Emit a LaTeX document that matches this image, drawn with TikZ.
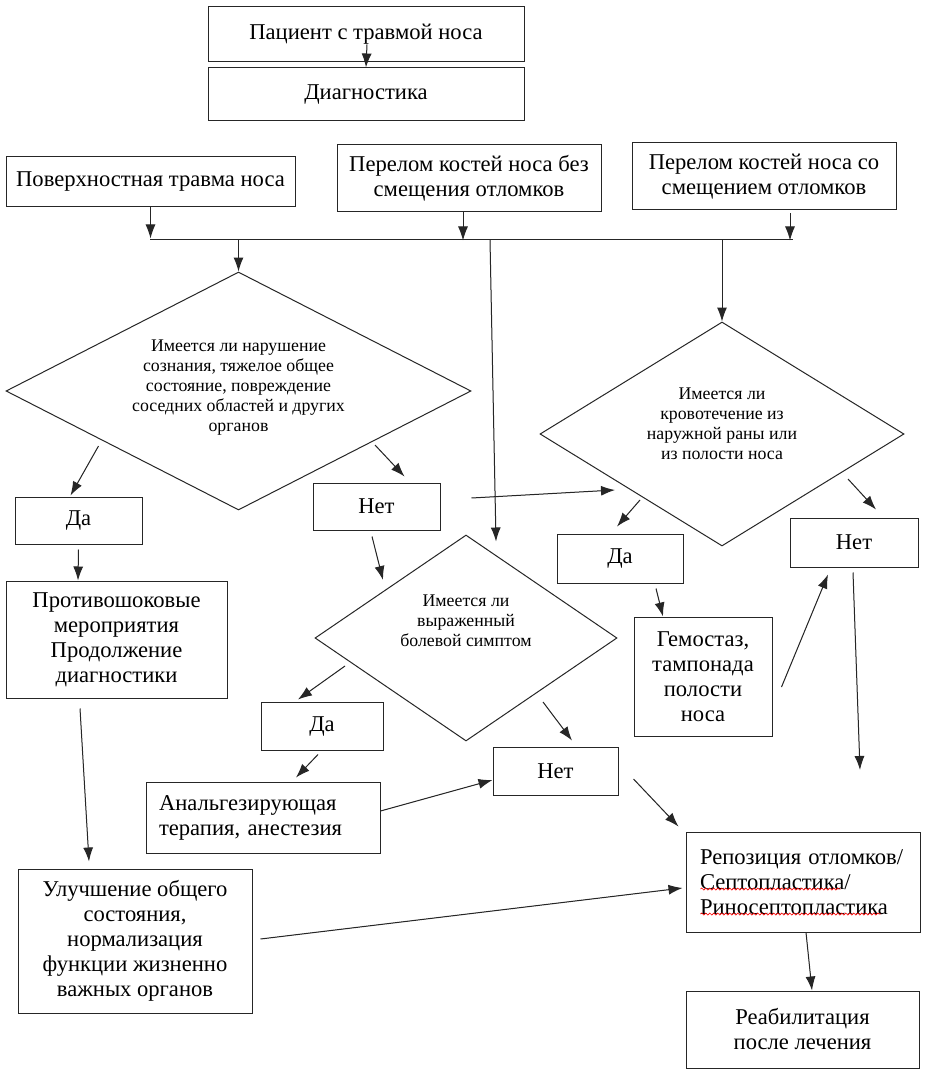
\documentclass[tikz,border=0pt]{standalone}
\usepackage{fontspec}
\setmainfont{Liberation Serif}
\usetikzlibrary{shapes.geometric,arrows.meta,calc,decorations.pathmorphing}
\begin{document}
\begin{tikzpicture}[x=1pt,y=-1pt,
  box/.style={draw=black!85, line width=1pt, inner sep=0pt, align=center, font=\fontsize{22.6}{25}\selectfont},
  dia/.style={draw=black!85, line width=1pt, diamond, inner sep=0pt},
  dtxt/.style={align=center, inner sep=0pt, font=\fontsize{17.8}{20}\selectfont},
  arr/.style={-{Latex[length=14pt,width=10pt]}, line width=1pt, draw=black!85, fill=black!85},
  ln/.style={line width=1pt, draw=black!85},
  wavy/.style={draw=red, line width=0.7pt, decorate, decoration={snake, amplitude=1pt, segment length=4pt}}
]
\path[use as bounding box, fill=white] (0,0) rectangle (927,1075);

% top boxes
\node[box, minimum width=316, minimum height=55] (b1) at (366,34.5) {Пациент с травмой носа};
\node[box, minimum width=316, minimum height=53] (b2) at (366,94.5) {Диагностика};
\node[box, minimum width=289, minimum height=50] (b3) at (150.5,182) {Поверхностная травма носа};
\node[box, minimum width=264, minimum height=67] (b4) at (469,178.5) {Перелом костей носа без\\смещения отломков};
\node[box, minimum width=264, minimum height=67] (b5) at (764,176.5) {Перелом костей носа со\\смещением отломков};

% bus
\coordinate (busL) at (150,240);
\coordinate (busR) at (793,240);
\coordinate (busM) at (490,240);

% diamonds
\node[dia, minimum width=465, minimum height=238] (d1) at (238.5,391) {};
\node[dtxt] (d1t) at (238.5,388) {Имеется ли нарушение\\сознания, тяжелое общее\\состояние, повреждение\\соседних областей и других\\органов};
\node[dia, minimum width=364, minimum height=224] (d2) at (722,434) {};
\node[dtxt] (d2t) at (722,423.5) {Имеется ли\\кровотечение из\\наружной раны или\\из полости носа};
\node[dia, minimum width=302, minimum height=206] (d3) at (466,638) {};
\node[dtxt] (d3t) at (466,621) {Имеется ли\\выраженный\\болевой симптом};

% answer boxes
\node[box, minimum width=127, minimum height=47] (yes1) at (78.5,520.5) {Да};
\node[box, minimum width=127, minimum height=47] (no1) at (376.5,506.5) {Нет};
\node[box, minimum width=126, minimum height=49] (yes2) at (620,558.5) {Да};
\node[box, minimum width=128, minimum height=49] (no2) at (854,542.5) {Нет};
\node[box, minimum width=122, minimum height=48] (yes3) at (322,726) {Да};
\node[box, minimum width=125, minimum height=48] (no3) at (555.5,771) {Нет};

% action boxes
\node[box, minimum width=221, minimum height=117] (anti) at (116.5,639.5) {Противошоковые\\мероприятия\\Продолжение\\диагностики};
\node[box, minimum width=138, minimum height=119] (hemo) at (703,676.5) {Гемостаз,\\тампонада\\полости\\носа};
\node[box, align=left, text width=208, inner xsep=13, minimum height=71] (analg) at (263,817.5) {Анальгезирующая\\терапия, анестезия};
\node[box, minimum width=234, minimum height=144] (impr) at (135,941) {Улучшение общего\\состояния,\\нормализация\\функции жизненно\\важных органов};
\node[box, align=left, text width=206, inner xsep=14, minimum height=100] (repo) at (803,882) {Репозиция\hspace{7pt}отломков/\\Септопластика/\\Риносептопластика};
\node[box, minimum width=233, minimum height=77] (rehab) at (802.5,1029.5) {Реабилитация\\после лечения};

% spell-check underlines
\draw[wavy] ($(repo.west)+(15,7)$) -- ($(repo.west)+(155,7)$);
\draw[wavy] ($(repo.west)+(15,32)$) -- ($(repo.west)+(195,32)$);

% connectors
\draw[arr] ($(b1.center)+(1,10)$) -- (b2.north);
\draw[arr] (b3.south) -- ($(b3.south)+(0,31)$);
\draw[arr] ($(b4.south)+(-6,0)$) -- ($(b4.south)+(-6,28)$);
\draw[arr] ($(b5.south)+(26,3)$) -- ($(b5.south)+(26,30)$);
\draw[ln] (busL) -- (busR);
\draw[arr] (d1.north |- busL) -- (d1.north);
\draw[arr] (d2.north |- busR) -- (d2.north);
\draw[arr] (busM) -- ($(d3.north)+(30,7)$);

\draw[arr] ($(d1.center)+(-140,55)$) -- ($(yes1.north)+(-8,-1)$);
\draw[arr] ($(d1.center)+(136.5,54)$) -- ($(no1.north)+(28,-6)$);
\draw[arr] ($(no1.east)+(31,-8.5)$) -- ($(d2.center)+(-107,56)$);
\draw[arr] ($(no1.south)+(-4.5,6)$) -- ($(d3.center)+(-83,-58)$);

\draw[arr] ($(d2.center)+(-82,66)$) -- ($(yes2.north)+(-3,-7)$);
\draw[arr] ($(d2.center)+(126,45)$) -- ($(no2.north)+(22,-8)$);
\draw[arr] ($(yes2.south)+(36,5)$) -- ($(hemo.north)+(-40,0)$);
\draw[arr] ($(hemo.east)+(9,10.5)$) -- ($(no2.south)+(-26,7)$);
\coordinate (noend) at (860,770);
\draw[arr] ($(no2.south)+(-1,5)$) -- (noend);

\draw[arr] ($(yes1.south)+(0,5)$) -- ($(anti.north)+(-38.5,0)$);
\draw[arr] ($(anti.south)+(-36.5,10)$) -- ($(impr.north)+(-46,-7)$);

\draw[arr] ($(d3.center)+(-121,28)$) -- ($(yes3.north)+(-24,-2)$);
\draw[arr] ($(d3.center)+(77,64)$) -- ($(no3.north)+(16.5,-6)$);
\draw[arr] ($(yes3.south)+(-4,4)$) -- ($(analg.north)+(33,-4)$);
\draw[arr] ($(analg.east)+(0,-6.5)$) -- ($(no3.west)+(0,9)$);
\draw[arr] ($(no3.east)+(15,8)$) -- ($(repo.north west)+(-7,-5)$);
\draw[arr] ($(impr.east)+(8,-2)$) -- ($(repo.west)+(-3,6)$);
\draw[arr] ($(repo.south)+(3,0)$) -- ($(rehab.north)+(9.5,0)$);
\end{tikzpicture}
\end{document}
